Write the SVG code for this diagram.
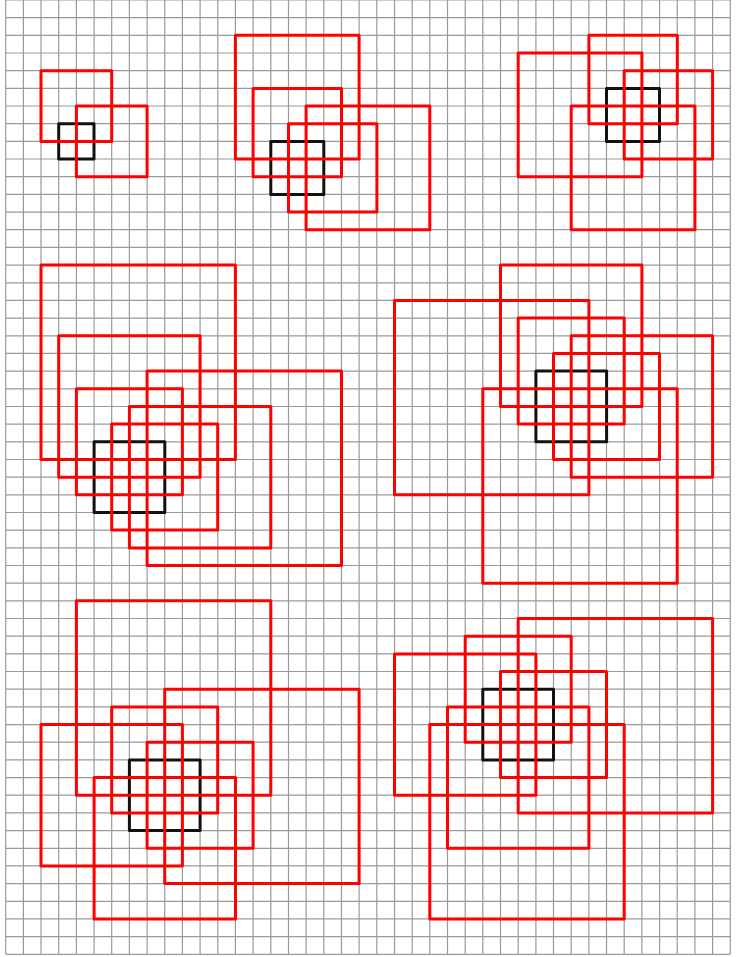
<svg xmlns="http://www.w3.org/2000/svg" width="743" height="957" viewBox="0 0 743 957">
<style>
.grid{fill:none;stroke:#9a9a9a;stroke-width:1.2}
.r{fill:none;stroke:#ff0000;stroke-width:3;stroke-linejoin:round}
.k{fill:none;stroke:#111111;stroke-width:3;stroke-linejoin:round}
</style>
<rect x="0" y="0" width="743" height="957" fill="#ffffff"/>
<g id="grid">
<path class="grid" d="M5.7 0V954.3M23.4 0V954.3M41 0V954.3M58.7 0V954.3M76.4 0V954.3M94.1 0V954.3M111.7 0V954.3M129.4 0V954.3M147.1 0V954.3M164.7 0V954.3M182.4 0V954.3M200.1 0V954.3M217.8 0V954.3M235.4 0V954.3M253.1 0V954.3M270.8 0V954.3M288.5 0V954.3M306.1 0V954.3M323.8 0V954.3M341.5 0V954.3M359.1 0V954.3M376.8 0V954.3M394.5 0V954.3M412.2 0V954.3M429.8 0V954.3M447.5 0V954.3M465.2 0V954.3M482.8 0V954.3M500.5 0V954.3M518.2 0V954.3M535.9 0V954.3M553.5 0V954.3M571.2 0V954.3M588.9 0V954.3M606.5 0V954.3M624.2 0V954.3M641.9 0V954.3M659.6 0V954.3M677.2 0V954.3M694.9 0V954.3M712.6 0V954.3M730.3 0V954.3"/>
<path class="grid" d="M5.7 0H730.3M5.7 17.7H730.3M5.7 35.3H730.3M5.7 53H730.3M5.7 70.7H730.3M5.7 88.4H730.3M5.7 106H730.3M5.7 123.7H730.3M5.7 141.4H730.3M5.7 159H730.3M5.7 176.7H730.3M5.7 194.4H730.3M5.7 212.1H730.3M5.7 229.7H730.3M5.7 247.4H730.3M5.7 265.1H730.3M5.7 282.8H730.3M5.7 300.4H730.3M5.7 318.1H730.3M5.7 335.8H730.3M5.7 353.4H730.3M5.7 371.1H730.3M5.7 388.8H730.3M5.7 406.5H730.3M5.7 424.1H730.3M5.7 441.8H730.3M5.7 459.5H730.3M5.7 477.1H730.3M5.7 494.8H730.3M5.7 512.5H730.3M5.7 530.2H730.3M5.7 547.8H730.3M5.7 565.5H730.3M5.7 583.2H730.3M5.7 600.8H730.3M5.7 618.5H730.3M5.7 636.2H730.3M5.7 653.9H730.3M5.7 671.5H730.3M5.7 689.2H730.3M5.7 706.9H730.3M5.7 724.6H730.3M5.7 742.2H730.3M5.7 759.9H730.3M5.7 777.6H730.3M5.7 795.2H730.3M5.7 812.9H730.3M5.7 830.6H730.3M5.7 848.3H730.3M5.7 865.9H730.3M5.7 883.6H730.3M5.7 901.3H730.3M5.7 918.9H730.3M5.7 936.6H730.3M5.7 954.3H730.3"/>
</g>
<g id="panel1">
<rect class="k" x="58.7" y="123.7" width="35.3" height="35.3"/>
<rect class="r" x="41" y="70.7" width="70.7" height="70.7"/>
<rect class="r" x="76.4" y="106" width="70.7" height="70.7"/>
</g>
<g id="panel2">
<rect class="k" x="270.8" y="141.4" width="53" height="53"/>
<rect class="r" x="235.4" y="35.3" width="123.7" height="123.7"/>
<rect class="r" x="253.1" y="88.4" width="88.4" height="88.4"/>
<rect class="r" x="306.1" y="106" width="123.7" height="123.7"/>
<rect class="r" x="288.5" y="123.7" width="88.4" height="88.4"/>
</g>
<g id="panel3">
<rect class="k" x="606.5" y="88.4" width="53" height="53"/>
<rect class="r" x="518.2" y="53" width="123.7" height="123.7"/>
<rect class="r" x="588.9" y="35.3" width="88.4" height="88.4"/>
<rect class="r" x="624.2" y="70.7" width="88.4" height="88.4"/>
<rect class="r" x="571.2" y="106" width="123.7" height="123.7"/>
</g>
<g id="panel4">
<rect class="k" x="94.1" y="441.8" width="70.7" height="70.7"/>
<rect class="r" x="41" y="265.1" width="194.4" height="194.4"/>
<rect class="r" x="58.7" y="335.8" width="141.4" height="141.4"/>
<rect class="r" x="76.4" y="388.8" width="106" height="106"/>
<rect class="r" x="147.1" y="371.1" width="194.4" height="194.4"/>
<rect class="r" x="129.4" y="406.5" width="141.4" height="141.4"/>
<rect class="r" x="111.7" y="424.1" width="106" height="106"/>
</g>
<g id="panel5">
<rect class="k" x="535.9" y="371.1" width="70.7" height="70.7"/>
<rect class="r" x="500.5" y="265.1" width="141.4" height="141.4"/>
<rect class="r" x="394.5" y="300.4" width="194.4" height="194.4"/>
<rect class="r" x="518.2" y="318.1" width="106" height="106"/>
<rect class="r" x="571.2" y="335.8" width="141.4" height="141.4"/>
<rect class="r" x="553.5" y="353.4" width="106" height="106"/>
<rect class="r" x="482.8" y="388.8" width="194.4" height="194.4"/>
</g>
<g id="panel6">
<rect class="k" x="129.4" y="759.9" width="70.7" height="70.7"/>
<rect class="r" x="76.4" y="600.8" width="194.4" height="194.4"/>
<rect class="r" x="164.7" y="689.2" width="194.4" height="194.4"/>
<rect class="r" x="111.7" y="706.9" width="106" height="106"/>
<rect class="r" x="41" y="724.6" width="141.4" height="141.4"/>
<rect class="r" x="147.1" y="742.2" width="106" height="106"/>
<rect class="r" x="94.1" y="777.6" width="141.4" height="141.4"/>
</g>
<g id="panel7">
<rect class="k" x="482.8" y="689.2" width="70.7" height="70.7"/>
<rect class="r" x="518.2" y="618.5" width="194.4" height="194.4"/>
<rect class="r" x="465.2" y="636.2" width="106" height="106"/>
<rect class="r" x="394.5" y="653.9" width="141.4" height="141.4"/>
<rect class="r" x="500.5" y="671.5" width="106" height="106"/>
<rect class="r" x="447.5" y="706.9" width="141.4" height="141.4"/>
<rect class="r" x="429.8" y="724.6" width="194.4" height="194.4"/>
</g>
</svg>
